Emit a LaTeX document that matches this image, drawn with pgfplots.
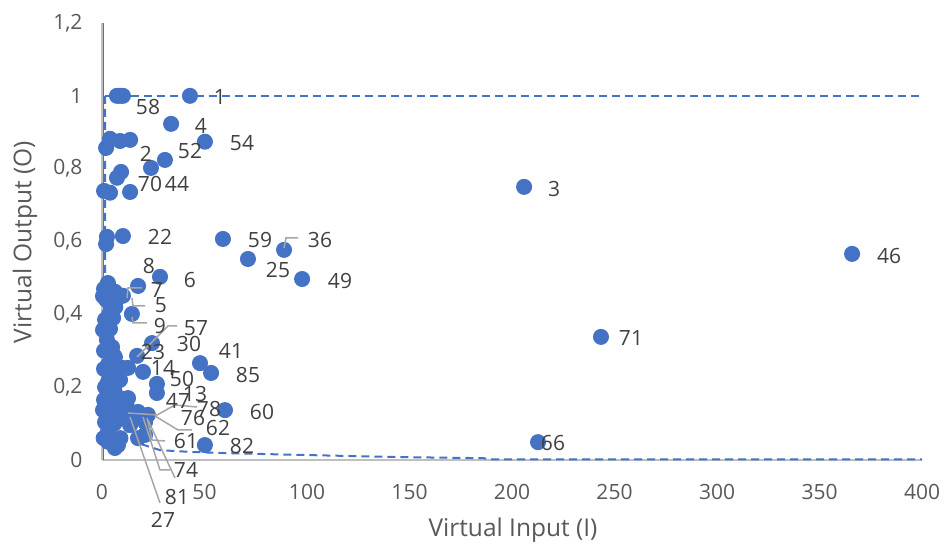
\documentclass[border=0pt]{standalone}
\usepackage{pgfplots}
\pgfplotsset{compat=1.18}
\usepackage{fontspec}
\setmainfont{Open Sans}
\definecolor{ptblue}{HTML}{4472C4}
\definecolor{tickgray}{HTML}{595959}
\definecolor{lblgray}{HTML}{404040}
\definecolor{axgray}{HTML}{BFBFBF}
\definecolor{leadgray}{HTML}{A6A6A6}
\begin{document}
\begin{tikzpicture}
\begin{axis}[
  at={(0,0)}, anchor=south west,
  scale only axis, width=820bp, height=437bp,
  xmin=0, xmax=400, ymin=0, ymax=1.2,
  axis x line*=bottom, axis y line*=left,
  axis line style={axgray, line width=1.3bp, -},
  xtick={0,50,...,400}, ytick={0,0.2,0.4,0.6,0.8,1,1.2},
  major tick length=0pt,
  tick label style={font=\fontsize{21bp}{25bp}\selectfont, text=tickgray},
  /pgf/number format/assume math mode=true,
  /pgf/number format/use comma,
  /pgf/number format/fixed,
  /pgf/number format/precision=1,
  xticklabel style={anchor=north, yshift=-21bp},
  yticklabel style={anchor=east, xshift=-16bp},
  clip=false,
]
\addplot[ptblue, line width=1.5bp] coordinates {(0.8,0) (0.8,1.2)};
\addplot[ptblue, line width=2bp, dash pattern=on 8bp off 5bp] coordinates {(1.5,1) (400,1)};
\addplot[ptblue, line width=2bp, dash pattern=on 8bp off 5bp] coordinates {
 (1.5,1) (1.5,0.14) (10.2,0.096) (14,0.065) (20,0.042) (28.3,0.027) (43.9,0.022)
 (60,0.019) (96.6,0.014) (145,0.008) (186,0.005) (189,0.002) (400,0.002)};
\addplot[only marks, mark=*, mark size=7.5bp, mark options={draw=ptblue, fill=ptblue, line width=1bp}]
 table[row sep=\\] {
 x y \\
 7.3 1.000 \\ 8.8 1.000 \\ 10.2 1.000 \\ 42.9 1.000 \\
 33.7 0.923 \\ 50.2 0.874 \\ 2.0 0.857 \\ 3.9 0.882 \\ 8.8 0.876 \\ 13.7 0.879 \\
 30.7 0.824 \\ 23.9 0.802 \\ 9.3 0.791 \\ 7.3 0.775 \\ 13.7 0.736 \\ 1.0 0.739 \\ 3.9 0.734 \\
 205.9 0.750 \\ 365.9 0.566 \\ 10.2 0.615 \\ 2.4 0.613 \\ 2.0 0.593 \\
 59.0 0.607 \\ 88.8 0.577 \\ 71.2 0.552 \\ 97.6 0.497 \\ 28.3 0.503 \\ 17.6 0.478 \\
 2.9 0.486 \\ 2.9 0.459 \\ 6.3 0.462 \\ 10.2 0.451 \\ 14.6 0.401 \\ 1.5 0.385 \\ 5.4 0.390 \\
 0.5 0.357 \\ 2.4 0.330 \\ 4.9 0.310 \\ 24.4 0.321 \\ 17.1 0.286 \\ 6.3 0.283 \\
 47.8 0.266 \\ 53.2 0.239 \\ 243.4 0.338 \\ 2.9 0.261 \\ 9.8 0.253 \\ 12.7 0.253 \\ 20.0 0.242 \\
 2.9 0.214 \\ 4.9 0.187 \\ 26.8 0.209 \\ 26.8 0.184 \\ 12.7 0.170 \\ 7.8 0.173 \\
 0.5 0.137 \\ 4.9 0.143 \\ 11.2 0.132 \\ 17.6 0.132 \\ 22.4 0.124 \\ 21.0 0.104 \\ 1.5 0.104 \\
 2.9 0.077 \\ 21.0 0.069 \\ 7.8 0.041 \\ 6.3 0.033 \\ 17.6 0.060 \\
 60.0 0.137 \\ 50.2 0.041 \\ 212.7 0.049 \\ 2.0 0.440 \\ 1.0 0.165 \\ 8.8 0.220 \\ 13.7 0.096 \\
 0.5 0.450 \\ 1.0 0.300 \\ 3.9 0.360 \\ 5.4 0.290 \\ 4.0 0.240 \\ 6.0 0.200 \\ 8.0 0.150 \\
 10.0 0.120 \\ 4.0 0.120 \\ 3.0 0.050 \\ 9.0 0.060 \\ 12.0 0.150 \\ 15.0 0.120 \\ 1.0 0.250 \\
 6.5 0.420 \\ 9.0 0.450 \\ 3.5 0.400 \\ 1.0 0.470 \\ 1.5 0.200 \\ 6.0 0.100 \\ 0.8 0.060 \\
 };
\end{axis}
\begin{scope}[x=1bp, y=-1bp, shift={(-102bp,460bp)}]
 \tikzset{lbl/.style={font=\fontsize{21bp}{25bp}\selectfont, text=lblgray, inner sep=0pt},
          lead/.style={leadgray, line width=1.5bp}}
 % axis titles
 \node[font=\fontsize{24.5bp}{29bp}\selectfont, text=tickgray] at (513,530) {Virtual Input (I)};
 \node[font=\fontsize{24.5bp}{29bp}\selectfont, text=tickgray, rotate=90] at (25,242) {Virtual Output (O)};
 % leader lines
 \draw[lead] (284,248) -- (286,238) -- (298,238);
 \draw[lead] (127,298) -- (128,288) -- (142,288);
 \draw[lead] (132,298) -- (133,306) -- (145,306);
 \draw[lead] (132,317) -- (133,323) -- (147,323);
 \draw[lead] (177,326) -- (168,326) -- (137,357);
 \draw[lead] (157,415) -- (175,405) -- (197,407);
 \draw[lead] (128,413) -- (158,415);
 \draw[lead] (155,416) -- (178,430) -- (192,430);
 \draw[lead] (147,418) -- (152,440) -- (165,441);
 \draw[lead] (143,417) -- (160,470) -- (170,470);
 \draw[lead] (148,420) -- (175,478);
 \draw[lead] (130,417) -- (160,503);
 % data labels
 \node[lbl] at (220,97) {1};
 \node[lbl] at (148,107) {58};
 \node[lbl] at (201,126) {4};
 \node[lbl] at (242,143) {54};
 \node[lbl] at (190,151) {52};
 \node[lbl] at (146,154) {2};
 \node[lbl] at (150,184) {70};
 \node[lbl] at (177,184) {44};
 \node[lbl] at (554,189) {3};
 \node[lbl] at (160,237) {22};
 \node[lbl] at (260,240) {59};
 \node[lbl] at (320,240) {36};
 \node[lbl] at (278,270) {25};
 \node[lbl] at (340,281) {49};
 \node[lbl] at (889,256) {46};
 \node[lbl] at (149,266) {8};
 \node[lbl] at (190,280) {6};
 \node[lbl] at (157,290) {7};
 \node[lbl] at (161,305) {5};
 \node[lbl] at (160,326) {9};
 \node[lbl] at (196,328) {57};
 \node[lbl] at (189,344) {30};
 \node[lbl] at (153,352) {23};
 \node[lbl] at (231,351) {41};
 \node[lbl] at (163,368) {14};
 \node[lbl] at (248,375) {85};
 \node[lbl] at (182,379) {50};
 \node[lbl] at (195,394) {13};
 \node[lbl] at (178,401) {47};
 \node[lbl] at (209,409) {78};
 \node[lbl] at (262,412) {60};
 \node[lbl] at (193,418) {76};
 \node[lbl] at (218,428) {62};
 \node[lbl] at (631,338) {71};
 \node[lbl] at (186,441) {61};
 \node[lbl] at (242,446) {82};
 \node[lbl] at (553,443) {66};
 \node[lbl] at (186,470) {74};
 \node[lbl] at (177,497) {81};
 \node[lbl] at (163,520) {27};
 \pgfresetboundingbox
 \path[use as bounding box] (0,0) rectangle (945,544);
\end{scope}
\end{tikzpicture}
\end{document}
